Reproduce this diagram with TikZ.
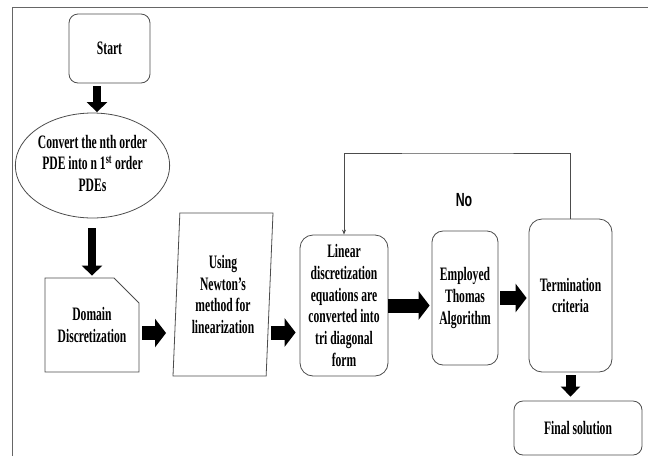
\documentclass[tikz,border=0pt]{standalone}
\usepackage{fontspec}
\setmainfont[FakeStretch=0.61]{Liberation Serif}
\newfontfamily\nofont[FakeStretch=0.65]{Liberation Sans}
\usetikzlibrary{arrows.meta,shapes.geometric,shapes.misc}

\begin{document}
\begin{tikzpicture}[x=1pt, y=-1pt,
	box/.style={draw=black!70, line width=0.8pt, inner sep=0pt, align=center,
		font=\fontsize{19}{21.7}\selectfont\bfseries},
	rbox/.style={box, rectangle, rounded corners=9pt},
	bigarrow/.style={line width=14pt, -{Triangle[length=11pt,width=28pt]}},
	downarrow/.style={line width=8pt, -{Triangle[length=10pt,width=20pt]}}]
	\useasboundingbox (0,0) rectangle (648,456);
	% frame
	\draw[black!60, line width=0.8pt] (12,456) -- (12,7) -- (648,7);
	% boxes
	\node[rbox, minimum width=81pt, minimum height=69pt] (start) at (109.5,48.5) {Start};
	\node[box, ellipse, minimum width=151pt, minimum height=105pt] (convert) at (92.5,165.5)
		{\raisebox{-4pt}{\begin{tabular}{@{}c@{}}Convert the nth order\\PDE into n 1\textsuperscript{st} order\\PDEs\end{tabular}}};
	\node[box, chamfered rectangle, chamfered rectangle corners=north east,
		chamfered rectangle xsep=10pt, chamfered rectangle ysep=15pt,
		minimum width=94pt, minimum height=94pt] (domain) at (92,325) {Domain\\Discretization};
	\node[box, trapezium, trapezium left angle=85, trapezium right angle=95,
		trapezium stretches body, minimum width=100pt, minimum height=163pt] (newton) at (223,294.5)
		{Using\\Newton's\\method for\\linearization};
	\node[rbox, rounded corners=13pt, minimum width=88pt, minimum height=141pt] (linear) at (344,305.5)
		{Linear\\discretization\\equations are\\converted into\\tri diagonal\\form};
	\node[rbox, rounded corners=11pt, minimum width=66pt, minimum height=134pt] (thomas) at (465,298)
		{Employed\\Thomas\\Algorithm};
	\node[rbox, rounded corners=13pt, minimum width=83pt, minimum height=153pt] (term) at (570.5,295.5)
		{Termination\\criteria};
	\node[rbox, minimum width=128pt, minimum height=54pt] (final) at (578,428) {Final solution};
	% arrows
	\draw[downarrow, shorten <=3pt, shorten >=0.5pt] (start.south -| 97,0) -- (convert.north -| 97,0);
	\draw[downarrow, shorten <=10pt, shorten >=2pt] (convert.south -| domain.north) -- (domain.north);
	\coordinate (d2n) at ([yshift=-8pt]domain.east);
	\draw[bigarrow, shorten <=3pt, shorten >=10pt] (d2n) -- (d2n -| newton.west);
	\coordinate (n2l) at ([yshift=-27pt]linear.west);
	\draw[bigarrow, shorten <=1pt, shorten >=4pt] (newton.east |- n2l) -- (n2l);
	\draw[bigarrow, shorten >=2pt] (linear.east) -- (linear.east -| thomas.west);
	\draw[bigarrow, shorten <=2pt, shorten >=2pt] (thomas.east) -- (thomas.east -| term.west);
	\draw[line width=10pt, -{Triangle[length=10pt,width=19pt]}, shorten <=3pt, shorten >=4pt]
		(term.south) -- (term.south |- final.north);
	% loop back
	\coordinate (loop) at (458,153);
	\draw[black!70, line width=0.8pt, -{Stealth[length=5pt,width=4pt]}] (term.north) |- (loop) -| (linear.north);
	\node[font=\nofont\fontsize{19}{21.7}\selectfont\bfseries] (no) at (464,200) {No};
\end{tikzpicture}
\end{document}
